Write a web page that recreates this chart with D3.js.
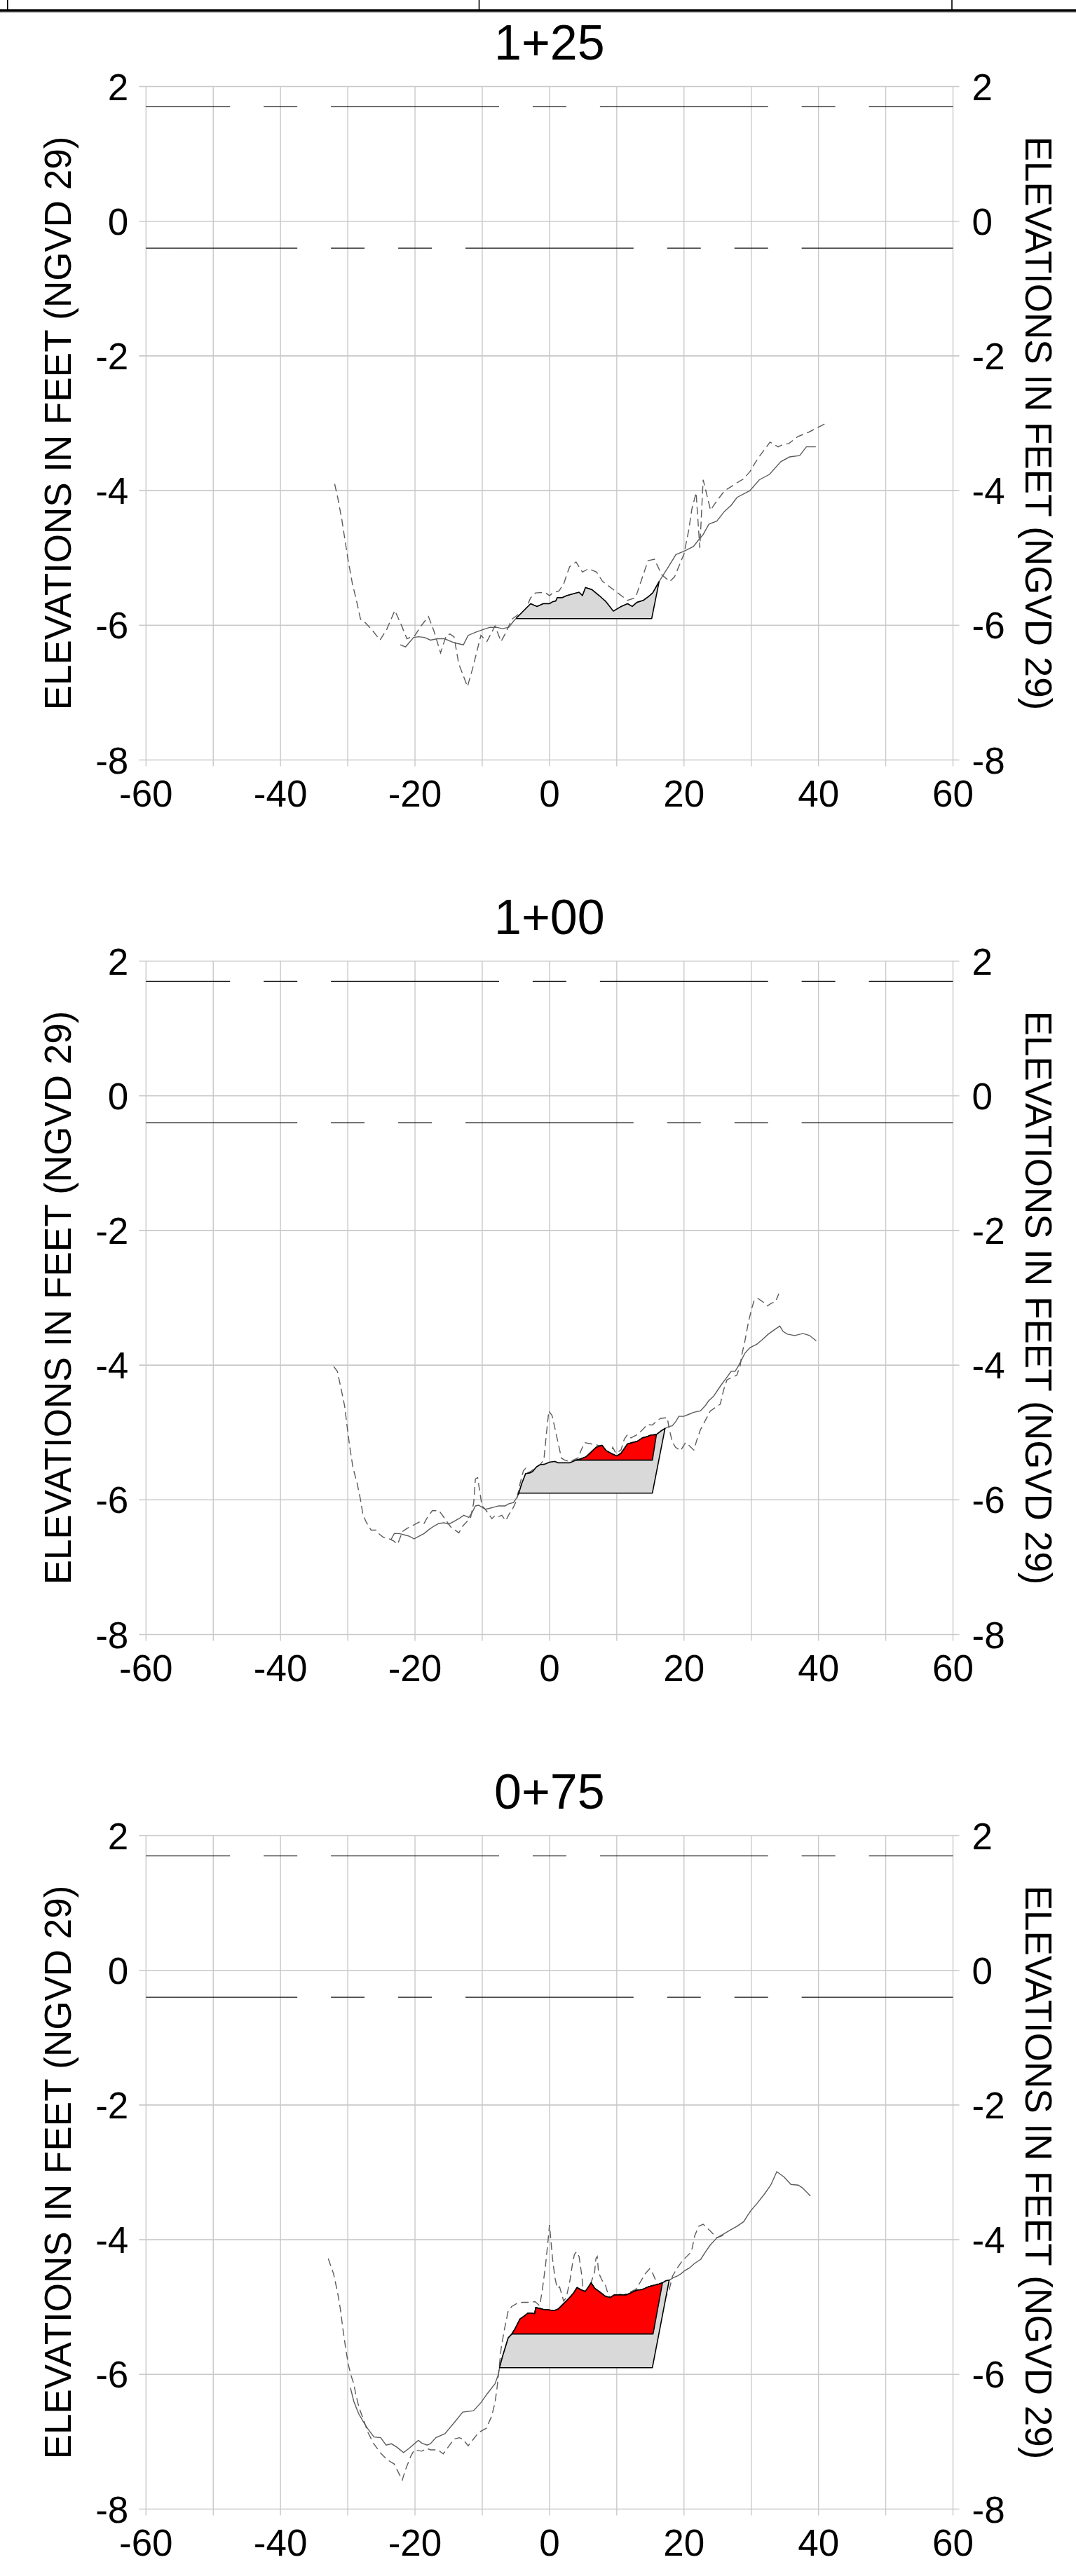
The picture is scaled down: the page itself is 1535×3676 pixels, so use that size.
<!DOCTYPE html>
<html><head><meta charset="utf-8">
<script src="https://cdn.jsdelivr.net/npm/d3@7"></script>
<style>html,body{margin:0;padding:0;background:#fff}svg{display:block}</style>
</head><body><div id="chart"></div>
<script>
// ---------------- data ----------------
const sections = ["1+25", "1+00", "0+75"];
const xTicks = [-60, -40, -20, 0, 20, 40, 60];
const xGridValues = [-60, -50, -40, -30, -20, -10, 0, 10, 20, 30, 40, 50, 60];
const yTicks = [2, 0, -2, -4, -6, -8];
const waterLevels = [1.7, -0.4];
const axisTitle = "ELEVATIONS IN FEET (NGVD 29)";

// dashed survey profiles [station offset, elevation]
const dashed_125 = [[-31.95,-3.90],[-31.5,-4.10],[-30.9,-4.42],[-30.0,-5.0],[-29.3,-5.39],[-28.8,-5.59],[-28.1,-5.91],[-27.4,-5.96],[-26.3,-6.08],[-25.2,-6.22],[-24.2,-6.06],[-23.0,-5.78],[-22.1,-5.98],[-21.2,-6.2],[-20.0,-6.15],[-19.1,-6.01],[-18.0,-5.87],[-17.2,-6.08],[-16.2,-6.41],[-15.35,-6.15],[-14.8,-6.13],[-14.2,-6.17],[-13.5,-6.57],[-12.2,-6.91],[-11.4,-6.63],[-10.2,-6.15],[-9.3,-6.24],[-8.1,-6.01],[-7.2,-6.24],[-6.5,-6.11],[-5.6,-5.91],[-4.65,-5.84],[-3.7,-5.8],[-2.8,-5.59],[-2.1,-5.52],[-0.7,-5.51],[0,-5.56],[0.47,-5.52],[1.4,-5.49],[2.1,-5.39],[2.56,-5.25],[3.0,-5.13],[3.95,-5.06],[4.9,-5.21],[5.8,-5.16],[7.0,-5.21],[7.9,-5.35],[9.77,-5.49],[11.6,-5.63],[12.8,-5.59],[13.7,-5.32],[14.65,-5.04],[15.6,-5.02],[16.7,-5.25],[17.9,-5.35],[18.6,-5.28],[20.0,-4.94],[20.7,-4.59],[21.16,-4.28],[21.8,-4.03],[22.35,-4.85],[22.85,-3.84],[23.95,-4.29],[24.9,-4.15],[26.05,-4.0],[27.2,-3.93],[28.1,-3.87],[28.8,-3.83],[29.8,-3.72],[30.5,-3.6],[31.3,-3.48],[32.8,-3.28],[34.0,-3.35],[34.6,-3.32],[35.6,-3.3],[36.9,-3.2],[38.6,-3.13],[41.1,-3.0]];
const dashed_100 = [[-32.09,-4.02],[-31.55,-4.09],[-30.95,-4.37],[-30.46,-4.61],[-30.07,-4.93],[-29.72,-5.2],[-29.23,-5.52],[-28.59,-5.76],[-28.1,-6.0],[-27.76,-6.21],[-27.26,-6.33],[-26.53,-6.45],[-25.79,-6.45],[-25.3,-6.51],[-24.66,-6.56],[-23.82,-6.58],[-23.18,-6.61],[-22.59,-6.66],[-21.85,-6.47],[-21.11,-6.42],[-20.13,-6.37],[-19.39,-6.33],[-18.65,-6.35],[-18.16,-6.26],[-17.42,-6.16],[-16.44,-6.16],[-15.7,-6.26],[-14.71,-6.4],[-13.48,-6.49],[-12.99,-6.4],[-12.25,-6.32],[-11.76,-6.28],[-11.27,-6.04],[-11.02,-5.69],[-10.68,-5.67],[-10.29,-5.93],[-10.04,-6.09],[-9.55,-6.14],[-9.06,-6.21],[-8.56,-6.28],[-8.07,-6.23],[-7.58,-6.25],[-7.1,-6.23],[-6.5,-6.31],[-6.1,-6.23],[-5.36,-6.11],[-4.87,-6.0],[-4.38,-5.76],[-3.89,-5.57],[-3.54,-5.53],[-3.15,-5.6],[-2.41,-5.55],[-1.43,-5.48],[-0.84,-5.41],[-0.44,-5.0],[-0.1,-4.68],[0.39,-4.75],[0.79,-4.93],[1.38,-5.2],[1.77,-5.38],[2.26,-5.41],[3.0,-5.43],[4.23,-5.38],[4.72,-5.26],[5.22,-5.15],[6.2,-5.17],[7.68,-5.2],[8.42,-5.27],[9.15,-5.33],[9.4,-5.22],[9.89,-5.31],[10.63,-5.26],[11.12,-5.1],[11.61,-5.03],[12.11,-5.08],[13.09,-5.03],[13.83,-4.96],[14.57,-4.88],[15.3,-4.89],[16.04,-4.82],[16.54,-4.79],[17.52,-4.78],[17.77,-4.93],[18.26,-5.14],[18.75,-5.22],[19.49,-5.27],[20.23,-5.15],[20.72,-5.19],[21.46,-5.26],[21.95,-5.1],[22.44,-4.96],[23.18,-4.82],[23.92,-4.68],[24.66,-4.63],[25.39,-4.58],[25.89,-4.37],[26.38,-4.22],[27.12,-4.18],[27.85,-4.15],[28.35,-4.01],[28.59,-3.85],[29.08,-3.63],[29.58,-3.36],[30.07,-3.16],[30.46,-3.03],[31.0,-3.01],[31.6,-3.05],[32.4,-3.12],[33.0,-3.08],[33.6,-3.06],[34.1,-2.94]];
const dashed_075 = [[-32.9,-4.28],[-32.1,-4.51],[-31.5,-4.79],[-31.1,-5.03],[-30.7,-5.34],[-30.3,-5.62],[-29.9,-5.86],[-29.5,-6.02],[-29.1,-6.14],[-28.8,-6.3],[-28.3,-6.5],[-27.7,-6.66],[-27.0,-6.86],[-26.2,-7.02],[-25.1,-7.17],[-24.1,-7.27],[-23.1,-7.33],[-22.5,-7.45],[-21.9,-7.57],[-21.4,-7.41],[-20.6,-7.21],[-20.1,-7.12],[-19.0,-7.14],[-18.2,-7.1],[-17.7,-7.12],[-16.6,-7.12],[-15.8,-7.18],[-15.0,-7.07],[-14.2,-6.96],[-13.4,-6.94],[-12.9,-6.96],[-12.1,-7.06],[-11.3,-6.96],[-10.5,-6.86],[-9.4,-6.8],[-8.6,-6.62],[-8.1,-6.42],[-7.8,-6.2],[-7.5,-5.91],[-7.2,-5.62],[-6.7,-5.33],[-6.15,-5.06],[-5.6,-4.99],[-4.9,-4.95],[-4.1,-4.93],[-3.2,-4.93],[-2.15,-4.92],[-1.46,-4.98],[-1.1,-4.77],[-0.6,-4.39],[-0.25,-4.05],[0,-3.78],[0.2,-4.0],[0.45,-4.28],[0.8,-4.56],[1.15,-4.72],[1.5,-4.7],[1.7,-4.77],[2.1,-4.91],[2.5,-4.86],[3.05,-4.6],[3.4,-4.37],[3.7,-4.22],[4.0,-4.18],[4.4,-4.25],[4.8,-4.53],[5.0,-4.74],[5.3,-4.78],[5.8,-4.74],[6.3,-4.6],[6.7,-4.49],[6.9,-4.28],[7.1,-4.25],[7.3,-4.49],[7.8,-4.6],[8.3,-4.67],[8.6,-4.77],[9.0,-4.86],[10.0,-4.8],[11.0,-4.82],[11.9,-4.78],[12.8,-4.74],[13.5,-4.63],[14.2,-4.51],[14.9,-4.43],[15.4,-4.51],[15.9,-4.63],[16.5,-4.75],[17.3,-4.85],[17.8,-4.74],[18.3,-4.54],[19.0,-4.42],[19.7,-4.32],[20.4,-4.25],[21.1,-4.18],[21.6,-3.94],[22.2,-3.8],[22.85,-3.77],[23.9,-3.87],[24.9,-3.97],[25.45,-3.95],[26.0,-3.92]];

// solid survey profiles
const solid_125 = [[-22.2,-6.29],[-21.4,-6.32],[-20.2,-6.18],[-19.5,-6.17],[-18.6,-6.18],[-17.7,-6.22],[-16.7,-6.2],[-15.6,-6.2],[-14.4,-6.25],[-13.7,-6.27],[-12.8,-6.29],[-12.1,-6.15],[-10.9,-6.1],[-9.8,-6.06],[-8.84,-6.03],[-7.9,-6.03],[-7.0,-6.05],[-6.05,-6.03],[-5.35,-5.94],[-4.9,-5.89],[-4.2,-5.82],[-2.8,-5.68],[-1.86,-5.72],[-0.93,-5.68],[0,-5.68],[0.47,-5.65],[0.93,-5.64],[1.16,-5.59],[1.86,-5.59],[2.56,-5.56],[3.95,-5.52],[4.4,-5.51],[4.9,-5.56],[5.35,-5.44],[6.3,-5.47],[7.4,-5.56],[8.4,-5.65],[9.5,-5.79],[10.5,-5.73],[11.6,-5.68],[12.3,-5.72],[13.0,-5.66],[13.95,-5.63],[14.65,-5.58],[15.35,-5.52],[16.3,-5.35],[17.7,-5.13],[18.8,-4.95],[20.0,-4.9],[21.4,-4.83],[22.1,-4.74],[22.8,-4.66],[23.7,-4.5],[24.9,-4.45],[26.0,-4.31],[27.0,-4.22],[27.9,-4.1],[29.8,-4.0],[31.2,-3.84],[32.7,-3.76],[34.4,-3.57],[35.7,-3.5],[37.2,-3.48],[38.2,-3.35],[39.6,-3.35]];
const solid_100 = [[-23.57,-6.59],[-23.08,-6.5],[-22.34,-6.5],[-21.6,-6.52],[-20.87,-6.54],[-20.13,-6.58],[-19.39,-6.54],[-18.65,-6.5],[-17.91,-6.44],[-17.18,-6.39],[-16.44,-6.35],[-15.7,-6.34],[-14.96,-6.36],[-14.22,-6.32],[-13.48,-6.28],[-12.75,-6.23],[-12.0,-6.26],[-11.52,-6.19],[-11.02,-6.09],[-10.53,-6.08],[-10.04,-6.11],[-9.55,-6.14],[-9.06,-6.13],[-8.32,-6.11],[-7.58,-6.09],[-6.59,-6.09],[-6.1,-6.06],[-5.36,-6.04],[-4.87,-5.97],[-4.6,-5.91],[-4.13,-5.76],[-3.54,-5.61],[-2.9,-5.6],[-2.51,-5.58],[-1.92,-5.51],[-1.43,-5.48],[-0.69,-5.47],[0.05,-5.44],[0.79,-5.43],[1.28,-5.45],[2.26,-5.45],[3.0,-5.45],[3.49,-5.43],[3.99,-5.41],[4.38,-5.4],[4.97,-5.38],[5.46,-5.36],[6.2,-5.29],[6.94,-5.22],[7.82,-5.19],[8.42,-5.27],[9.15,-5.31],[9.99,-5.35],[10.63,-5.31],[11.12,-5.24],[11.61,-5.17],[12.35,-5.15],[13.09,-5.13],[13.83,-5.08],[14.57,-5.06],[15.06,-5.04],[15.9,-5.03],[16.54,-4.98],[17.18,-4.94],[17.77,-4.91],[18.26,-4.9],[18.75,-4.84],[19.24,-4.76],[19.98,-4.76],[20.72,-4.73],[21.46,-4.7],[22.44,-4.68],[23.18,-4.6],[23.67,-4.53],[24.41,-4.46],[25.15,-4.35],[25.64,-4.28],[26.38,-4.18],[27.02,-4.09],[27.61,-4.09],[28.1,-4.01],[29.08,-3.82],[29.82,-3.74],[30.81,-3.69],[31.55,-3.63],[32.53,-3.54],[33.51,-3.47],[34.25,-3.42],[34.74,-3.5],[35.38,-3.54],[36.47,-3.56],[37.7,-3.53],[38.68,-3.56],[39.67,-3.64]];
const solid_075 = [[-29.6,-6.2],[-29.1,-6.4],[-28.4,-6.58],[-27.7,-6.7],[-27.0,-6.81],[-26.1,-6.93],[-25.1,-6.94],[-24.3,-7.05],[-23.5,-7.03],[-22.7,-7.08],[-21.7,-7.16],[-20.9,-7.1],[-19.5,-6.98],[-19.0,-7.02],[-18.2,-7.05],[-17.7,-7.03],[-16.9,-6.94],[-15.55,-6.88],[-14.2,-6.72],[-12.9,-6.56],[-11.3,-6.54],[-10.2,-6.42],[-9.2,-6.28],[-8.1,-6.14],[-7.6,-6.0],[-7.43,-5.9],[-7.0,-5.74],[-6.15,-5.46],[-5.6,-5.4],[-5.1,-5.32],[-4.4,-5.18],[-3.7,-5.13],[-3.2,-5.09],[-2.7,-5.09],[-2.2,-5.1],[-2.05,-5.01],[-1.46,-5.02],[-0.8,-5.04],[-0.25,-5.04],[0.3,-5.05],[0.8,-5.05],[1.3,-5.03],[2.0,-4.96],[2.9,-4.87],[3.6,-4.79],[4.1,-4.71],[4.6,-4.74],[5.3,-4.77],[5.8,-4.7],[6.2,-4.64],[6.7,-4.72],[7.4,-4.77],[8.3,-4.84],[9.0,-4.86],[9.65,-4.82],[10.5,-4.82],[11.4,-4.82],[12.1,-4.79],[12.95,-4.75],[13.8,-4.74],[14.7,-4.7],[15.4,-4.68],[16.25,-4.66],[16.8,-4.64],[17.3,-4.61],[17.8,-4.6],[18.5,-4.56],[19.0,-4.54],[19.5,-4.51],[20.1,-4.46],[20.8,-4.42],[21.6,-4.35],[22.5,-4.29],[23.2,-4.18],[23.9,-4.08],[24.9,-3.97],[26.0,-3.91],[27.0,-3.85],[27.9,-3.8],[28.9,-3.73],[29.4,-3.65],[30.0,-3.56],[30.8,-3.47],[31.9,-3.33],[32.9,-3.19],[33.8,-2.99],[34.9,-3.07],[35.9,-3.18],[37.0,-3.19],[37.6,-3.23],[38.2,-3.29],[38.8,-3.35]];

const dashedProfiles = [dashed_125, dashed_100, dashed_075];
const solidProfiles = [solid_125, solid_100, solid_075];

// dredge template (gray) per section
const templateBottom = [-5.9, -5.9, -5.9];
const templateLeftX = [-4.9, -4.65, -7.43];
const templateRightBottomX = [15.2, 15.3, 15.3];
const templateRightTopX = [16.3, 17.18, 17.8];
// red cut area per section (null = none)
const cutBottom = [null, -5.41, -5.4];
const cutLeftX = [null, 4.0, -5.6];
const cutRightBottomX = [null, 15.3, 15.4];
const cutRightTopX = [null, 15.9, 16.8];

// ---------------- layout ----------------
const W = 1535, H = 3676;
const plotLeft = 208.3, plotRight = 1359.5;
const firstTop = 123.5, panelStep = 1248, plotH = 961;

const svg = d3.select("#chart").append("svg")
  .attr("width", W).attr("height", H)
  .style("background", "#fff");
svg.append("rect").attr("width", W).attr("height", H).attr("fill", "#fff");

const FONT = "'Liberation Sans', Arial, Helvetica, sans-serif";

// header remnants of the sheet above
const hdr = svg.append("g");
hdr.append("line").attr("x1", 0).attr("x2", W).attr("y1", 15).attr("y2", 15)
  .attr("stroke", "#000").attr("stroke-width", 3.6);
hdr.append("line").attr("x1", 0).attr("x2", W).attr("y1", 17.6).attr("y2", 17.6)
  .attr("stroke", "#999").attr("stroke-width", 1);
[10.8, 683.5, 1358].forEach(x => hdr.append("line")
  .attr("x1", x).attr("x2", x).attr("y1", 0).attr("y2", 14)
  .attr("stroke", "#000").attr("stroke-width", 1.6));

const x = d3.scaleLinear().domain([-60, 60]).range([plotLeft, plotRight]);

function interp(pts, xv) {
  for (let i = 0; i < pts.length - 1; i++) {
    const a = pts[i], b = pts[i + 1];
    if (xv >= a[0] && xv <= b[0]) {
      const t = (xv - a[0]) / (b[0] - a[0]);
      return a[1] + t * (b[1] - a[1]);
    }
  }
  return pts[pts.length - 1][1];
}
function polygonOnSurface(surface, bottom, xl, xbr, xtr) {
  const pts = [[xl, bottom], [xl, interp(surface, xl)]];
  surface.forEach(p => { if (p[0] > xl && p[0] < xtr) pts.push(p); });
  pts.push([xtr, interp(surface, xtr)]);
  pts.push([xbr, bottom]);
  return pts;
}

sections.forEach((name, k) => {
  const top = firstTop + panelStep * k;
  const bottom = top + plotH;
  const y = d3.scaleLinear().domain([-8, 2]).range([bottom, top]);
  const g = svg.append("g");
  const line = d3.line().x(d => x(d[0])).y(d => y(d[1]));

  // title
  g.append("text").attr("x", x(0)).attr("y", top - 38.5)
    .attr("text-anchor", "middle").attr("font-family", FONT)
    .attr("font-size", 70).attr("fill", "#000").text(name);

  // grid
  g.selectAll(".vg").data(xGridValues).join("line")
    .attr("x1", d => x(d)).attr("x2", d => x(d))
    .attr("y1", top).attr("y2", bottom + 9)
    .attr("stroke", "#c9c9c9").attr("stroke-width", 1.4);
  g.selectAll(".hg").data(yTicks).join("line")
    .attr("x1", plotLeft - 10).attr("x2", plotRight + 9)
    .attr("y1", d => y(d)).attr("y2", d => y(d))
    .attr("stroke", "#c9c9c9").attr("stroke-width", 1.6);

  // tick labels
  g.selectAll(".yl").data(yTicks).join("text")
    .attr("x", plotLeft - 25).attr("y", d => y(d)).attr("dy", "0.36em")
    .attr("text-anchor", "end").attr("font-family", FONT).attr("font-size", 53)
    .text(d => String(d));
  g.selectAll(".yr").data(yTicks).join("text")
    .attr("x", plotRight + 27).attr("y", d => y(d)).attr("dy", "0.36em")
    .attr("text-anchor", "start").attr("font-family", FONT).attr("font-size", 53)
    .text(d => String(d));
  g.selectAll(".xl").data(xTicks).join("text")
    .attr("x", d => x(d)).attr("y", bottom + 66)
    .attr("text-anchor", "middle").attr("font-family", FONT).attr("font-size", 53)
    .text(d => String(d));

  // axis titles
  const cy = (top + bottom) / 2;
  g.append("text").attr("transform", `translate(100.5,${cy}) rotate(-90)`)
    .attr("text-anchor", "middle").attr("font-family", FONT).attr("font-size", 53)
    .text(axisTitle);
  g.append("text").attr("transform", `translate(1463,${cy}) rotate(90)`)
    .attr("text-anchor", "middle").attr("font-family", FONT).attr("font-size", 53)
    .text(axisTitle);

  // water level reference lines
  const u = x(1) - x(0);
  g.append("line").attr("x1", x(-60)).attr("x2", x(60))
    .attr("y1", y(waterLevels[0])).attr("y2", y(waterLevels[0]))
    .attr("stroke", "#111").attr("stroke-width", 1.4)
    .attr("stroke-dasharray", [25, 5, 5, 5].map(v => v * u).join(","))
    .attr("stroke-dashoffset", 12.5 * u);
  g.append("line").attr("x1", x(-60)).attr("x2", x(60))
    .attr("y1", y(waterLevels[1])).attr("y2", y(waterLevels[1]))
    .attr("stroke", "#111").attr("stroke-width", 1.4)
    .attr("stroke-dasharray", [25, 5, 5, 5, 5, 5].map(v => v * u).join(","))
    .attr("stroke-dashoffset", 2.5 * u);

  // survey profiles
  g.append("path").attr("d", line(dashedProfiles[k])).attr("fill", "none")
    .attr("stroke", "#5c5c5c").attr("stroke-width", 1.4)
    .attr("stroke-dasharray", "11,6");
  g.append("path").attr("d", line(solidProfiles[k])).attr("fill", "none")
    .attr("stroke", "#5c5c5c").attr("stroke-width", 1.4);

  // template polygon
  const surf = solidProfiles[k];
  const tpl = polygonOnSurface(surf, templateBottom[k], templateLeftX[k], templateRightBottomX[k], templateRightTopX[k]);
  g.append("path").attr("d", line(tpl) + "Z").attr("fill", "#d9d9d9")
    .attr("stroke", "#000").attr("stroke-width", 1.6).attr("stroke-linejoin", "round");
  if (cutBottom[k] !== null) {
    const cut = polygonOnSurface(surf, cutBottom[k], cutLeftX[k], cutRightBottomX[k], cutRightTopX[k]);
    g.append("path").attr("d", line(cut) + "Z").attr("fill", "#ff0000")
      .attr("stroke", "#000").attr("stroke-width", 1.6).attr("stroke-linejoin", "round");
  }
});
</script>
</body></html>
